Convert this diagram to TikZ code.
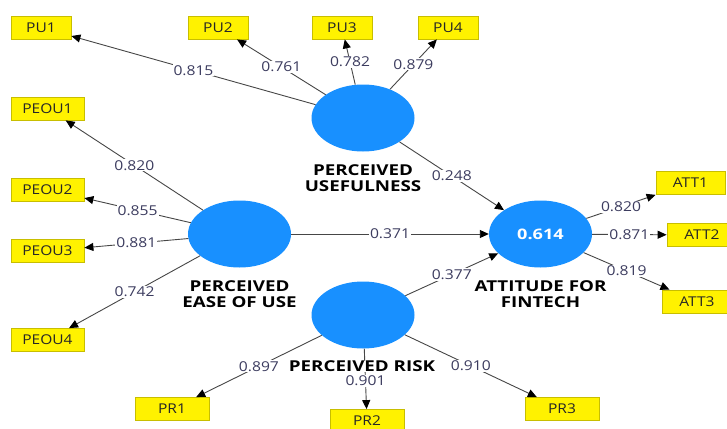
\documentclass[tikz,border=0pt]{standalone}
\usepackage{fontspec}
\setmainfont{Open Sans}[FakeStretch=1.15]
\newfontfamily\lvfont{Open Sans}[FakeStretch=1.25]
\usetikzlibrary{shapes.geometric,arrows.meta}
\definecolor{plsblue}{RGB}{24,144,255}
\definecolor{ybord}{RGB}{200,190,0}
\definecolor{lgray}{RGB}{70,70,70}
\definecolor{valc}{RGB}{60,60,95}
\begin{document}
\begin{tikzpicture}[x=1pt,y=-1pt,
  lv/.style={ellipse,fill=plsblue,minimum width=103pt,minimum height=67pt,inner sep=0pt},
  ind/.style={rectangle,fill=yellow,draw=ybord,line width=0.8pt,minimum height=23pt,inner sep=0pt,text=black!85,font=\fontsize{13.5}{14}\selectfont},
  lnk/.style={draw=lgray,line width=0.9pt,-{Triangle[length=9pt,width=8pt,color=black]}},
  val/.style={fill=white,inner sep=1pt,text=valc,font=\fontsize{13.6}{14}\selectfont},
  lvlab/.style={align=center,fill=white,inner sep=0.3pt,font=\lvfont\bfseries\fontsize{15}{16}\selectfont}]
\useasboundingbox (0,0) rectangle (727,428);
% latent variables
\node[lv] (pu) at (363,118) {};
\node[lv] (peou) at (239.5,234) {};
\node[lv] (att) at (540.5,234) {\textcolor{white}{\lvfont\bfseries\fontsize{14.5}{16}\selectfont 0.614}};
\node[lv] (pr) at (363,315) {};
% indicators
\node[ind,minimum width=60pt] (pu1) at (41,27.5) {PU1};
\node[ind,minimum width=60pt] (pu2) at (218,27.5) {PU2};
\node[ind,minimum width=60pt] (pu3) at (342,27.5) {PU3};
\node[ind,minimum width=60pt] (pu4) at (448,27.5) {PU4};
\node[ind,minimum width=73pt] (peou1) at (47.5,108.5) {PEOU1};
\node[ind,minimum width=73pt] (peou2) at (47.5,189.5) {PEOU2};
\node[ind,minimum width=73pt] (peou3) at (47.5,251) {PEOU3};
\node[ind,minimum width=73pt] (peou4) at (47.5,340) {PEOU4};
\node[ind,minimum width=74pt] (pr1) at (172,409) {PR1};
\node[ind,minimum width=74pt] (pr2) at (367,421) {PR2};
\node[ind,minimum width=74pt] (pr3) at (562,409) {PR3};
\node[ind,minimum width=69pt] (att1) at (690.5,183) {ATT1};
\node[ind,minimum width=70pt] (att2) at (702,235) {ATT2};
\node[ind,minimum width=70pt] (att3) at (697,301.5) {ATT3};
% outer loadings
\draw[lnk] (pu) -- node[val]{0.815} (pu1);
\draw[lnk] (pu) -- node[val]{0.761} (pu2);
\draw[lnk] (pu) -- node[val]{0.782} (pu3);
\draw[lnk] (pu) -- node[val]{0.879} (pu4);
\draw[lnk] (peou) -- node[val]{0.820} (peou1);
\draw[lnk] (peou) -- node[val]{0.855} (peou2);
\draw[lnk] (peou) -- node[val]{0.881} (peou3);
\draw[lnk] (peou) -- node[val]{0.742} (peou4);
\draw[lnk] (pr) -- node[val]{0.897} (pr1);
\draw[lnk] (pr) -- node[val,pos=0.53]{0.901} (pr2);
\draw[lnk] (pr) -- node[val]{0.910} (pr3);
\draw[lnk] (att) -- node[val]{0.820} (att1);
\draw[lnk] (att) -- node[val]{0.871} (att2);
\draw[lnk] (att) -- node[val]{0.819} (att3);
% path coefficients
\draw[lnk] (pu) -- node[val]{0.248} (att);
\draw[lnk] (peou) -- node[val]{0.371} (att);
\draw[lnk] (pr) -- node[val]{0.377} (att);
% construct labels
\node[lvlab] (lpu) at (363,178) {PERCEIVED\\USEFULNESS};
\node[lvlab] (lpeou) at (239.5,294) {PERCEIVED\\EASE OF USE};
\node[lvlab] (latt) at (540.5,294) {ATTITUDE FOR\\FINTECH};
\node[lvlab,inner sep=0pt] (lpr) at (362,366) {PERCEIVED RISK};
\end{tikzpicture}
\end{document}
